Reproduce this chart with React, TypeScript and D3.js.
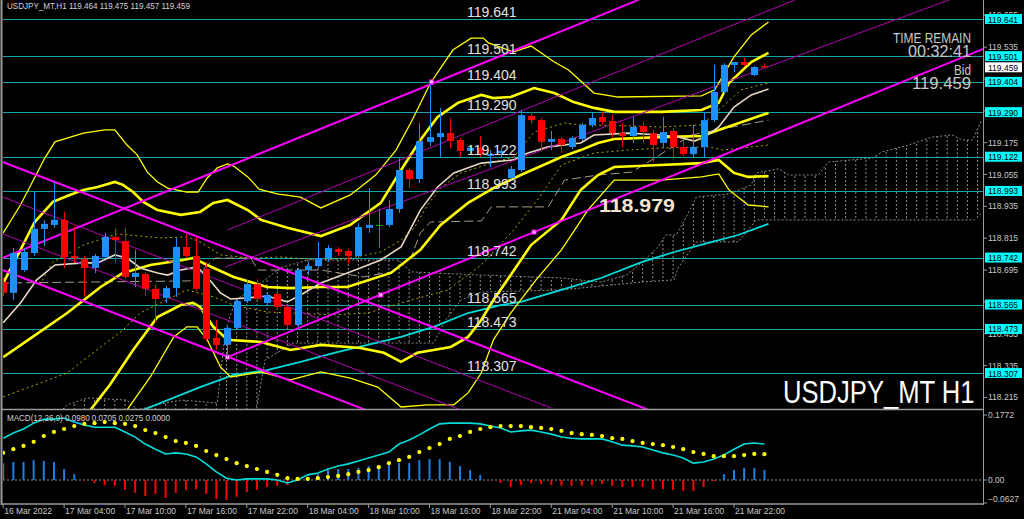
import React from "react";
import * as d3 from "d3";

const W = 1024;
const H = 519;
const RIGHT = 983;
const FONT = "'Liberation Sans', Arial, sans-serif";

// hourly candles, 16 Mar 22:00 .. 22 Mar 01:00
const candleOpen = [118.650, 118.609, 118.695, 118.759, 118.850, 118.865, 118.884, 118.748, 118.737, 118.703,
  118.744, 118.820, 118.804, 118.669, 118.680, 118.624, 118.590, 118.627, 118.782, 118.748,
  118.699, 118.439, 118.413, 118.477, 118.578, 118.642, 118.571, 118.605, 118.556, 118.488,
  118.695, 118.710, 118.740, 118.774, 118.767, 118.748, 118.854, 118.865, 118.865, 118.925,
  119.072, 119.038, 119.178, 119.196, 119.211, 119.185, 119.144, 119.155, 119.125, 119.136,
  119.042, 119.072, 119.276, 119.260, 119.178, 119.189, 119.159, 119.189, 119.242, 119.272,
  119.257, 119.211, 119.200, 119.238, 119.211, 119.174, 119.219, 119.159, 119.132, 119.159,
  119.260, 119.366, 119.468, 119.479, 119.430, 119.464];
const candleHigh = [118.665, 118.778, 118.778, 118.989, 118.884, 119.027, 118.914, 118.857, 118.748, 118.756,
  118.835, 118.850, 118.854, 118.771, 118.688, 118.639, 118.635, 118.816, 118.831, 118.820,
  118.725, 118.507, 118.484, 118.586, 118.657, 118.661, 118.612, 118.620, 118.563, 118.703,
  118.725, 118.801, 118.789, 118.782, 118.774, 118.872, 119.004, 118.925, 118.959, 119.117,
  119.080, 119.249, 119.392, 119.306, 119.268, 119.193, 119.166, 119.200, 119.147, 119.155,
  119.087, 119.298, 119.291, 119.268, 119.219, 119.196, 119.200, 119.249, 119.287, 119.291,
  119.283, 119.249, 119.272, 119.253, 119.223, 119.272, 119.230, 119.185, 119.242, 119.291,
  119.468, 119.475, 119.479, 119.494, 119.464, 119.475];
const candleLow = [118.597, 118.582, 118.688, 118.748, 118.786, 118.854, 118.703, 118.722, 118.594, 118.684,
  118.737, 118.722, 118.661, 118.631, 118.597, 118.499, 118.571, 118.594, 118.740, 118.616,
  118.428, 118.394, 118.367, 118.469, 118.571, 118.575, 118.560, 118.545, 118.477, 118.481,
  118.676, 118.703, 118.725, 118.748, 118.722, 118.740, 118.835, 118.778, 118.857, 118.910,
  119.004, 119.023, 119.162, 119.121, 119.155, 119.121, 119.132, 119.121, 119.083, 119.121,
  119.034, 119.064, 119.249, 119.144, 119.147, 119.136, 119.151, 119.181, 119.234, 119.242,
  119.193, 119.159, 119.174, 119.174, 119.102, 119.155, 119.117, 119.125, 119.117, 119.117,
  119.253, 119.359, 119.441, 119.464, 119.426, 119.457];
const candleClose = [118.609, 118.759, 118.763, 118.850, 118.869, 118.884, 118.744, 118.740, 118.703, 118.748,
  118.820, 118.808, 118.669, 118.684, 118.624, 118.586, 118.627, 118.782, 118.748, 118.624,
  118.435, 118.413, 118.477, 118.578, 118.642, 118.586, 118.601, 118.556, 118.488, 118.695,
  118.710, 118.740, 118.778, 118.763, 118.748, 118.857, 118.865, 118.865, 118.925, 119.072,
  119.038, 119.181, 119.196, 119.211, 119.181, 119.144, 119.155, 119.129, 119.132, 119.144,
  119.076, 119.279, 119.260, 119.178, 119.189, 119.166, 119.193, 119.242, 119.268, 119.253,
  119.211, 119.200, 119.234, 119.215, 119.166, 119.215, 119.159, 119.132, 119.159, 119.260,
  119.366, 119.468, 119.479, 119.468, 119.460, 119.459];

const levelPrices = [119.641, 119.501, 119.404, 119.290, 119.122, 118.993, 118.742, 118.565, 118.473, 118.307];
const priceTicks = [119.655, 119.535, 119.415, 119.295, 119.175, 119.055, 118.935, 118.815, 118.695, 118.575, 118.455, 118.335, 118.215];
const bidPrice = 119.459;
const timeLabels: [number, string][] = [
  [0, "16 Mar 2022"], [6, "17 Mar 04:00"], [12, "17 Mar 10:00"], [18, "17 Mar 16:00"], [24, "17 Mar 22:00"],
  [30, "18 Mar 04:00"], [36, "18 Mar 10:00"], [42, "18 Mar 16:00"], [48, "18 Mar 22:00"], [54, "21 Mar 04:00"],
  [60, "21 Mar 10:00"], [66, "21 Mar 16:00"], [72, "21 Mar 22:00"],
];

// indicator lines as [bar, price]
const bbOuterUpper = [[0, 118.835], [1.7, 118.94], [4.1, 119.117], [5.1, 119.178], [7.9, 119.211], [10, 119.223], [11, 119.223], [12.2, 119.166], [13.2, 119.129], [14.2, 119.064], [15.2, 119.027], [16.2, 119.004], [18.1, 118.989], [19.2, 118.989], [20.1, 119.042], [21.1, 119.08], [22.1, 119.095], [22.7, 119.087], [24.1, 119.046], [25.2, 119.0], [27, 118.982], [29.3, 118.97], [31.3, 118.929], [34.2, 118.978], [36.7, 119.053], [38.7, 119.147], [40.2, 119.253], [42.1, 119.4], [44.3, 119.524], [46.1, 119.569], [47.3, 119.569], [47.8, 119.551], [50.3, 119.517], [52, 119.539], [54.3, 119.479], [55.7, 119.449], [58.2, 119.362], [60.6, 119.347], [68.8, 119.351], [70.1, 119.374], [72, 119.498], [73.7, 119.581], [75.4, 119.63]];
const bbInnerUpper = [[0, 118.646], [1.7, 118.771], [3.1, 118.876], [4.9, 118.952], [6.3, 118.974], [7.9, 118.997], [9.3, 119.008], [11, 119.027], [11.8, 119.016], [12.8, 118.989], [13.8, 118.952], [15.2, 118.921], [17.5, 118.903], [19.4, 118.914], [20.7, 118.948], [22.1, 118.959], [24.1, 118.921], [25.4, 118.884], [28, 118.854], [31.3, 118.823], [34.2, 118.865], [37.2, 118.948], [39.2, 119.072], [41.1, 119.185], [42.8, 119.272], [44.8, 119.325], [47.1, 119.355], [48.3, 119.343], [50, 119.347], [52.3, 119.381], [54.3, 119.362], [56.2, 119.328], [58.2, 119.306], [60.2, 119.291], [64.8, 119.291], [68.8, 119.298], [70.5, 119.325], [71.5, 119.4], [73.7, 119.479], [75.4, 119.513]];
const bbInnerMid = [[0, 118.367], [2.9, 118.443], [6.3, 118.533], [9.6, 118.631], [11.8, 118.684], [14.5, 118.714], [17.7, 118.733], [18.7, 118.74], [20.1, 118.714], [22.7, 118.669], [26, 118.631], [28.3, 118.627], [31.3, 118.631], [33.9, 118.631], [38.2, 118.684], [41.1, 118.771], [43.1, 118.865], [45.8, 118.948], [48.3, 119.004], [51, 119.053], [55, 119.121], [56.9, 119.147], [58.6, 119.174], [60.2, 119.189], [64.8, 119.196], [68.8, 119.2], [70.5, 119.223], [75.4, 119.287]];
const bbInnerLower = [[8.6, 118.168], [10.5, 118.262], [12.8, 118.394], [15.2, 118.518], [17.5, 118.563], [18.7, 118.571], [19.4, 118.556], [20.7, 118.481], [22.1, 118.432], [25.4, 118.424], [28.3, 118.394], [31.3, 118.413], [35.2, 118.401], [37.5, 118.383], [39.2, 118.349], [40.8, 118.383], [42.4, 118.394], [44.1, 118.405], [45.8, 118.443], [47.1, 118.507], [48.3, 118.582], [50, 118.676], [52, 118.789], [55, 118.884], [56.9, 118.997], [58.6, 119.053], [60.2, 119.083], [64.8, 119.091], [68.8, 119.098], [70.5, 119.11], [72, 119.061], [73.4, 119.046], [75.4, 119.049]];
const bbOuterLower = [[12.2, 118.168], [14.5, 118.292], [16.8, 118.443], [18.1, 118.481], [19.1, 118.481], [20.1, 118.432], [21.4, 118.33], [22.4, 118.292], [25.4, 118.311], [28.3, 118.281], [31.3, 118.311], [34.2, 118.288], [36.9, 118.254], [39.2, 118.179], [41.8, 118.187], [44.4, 118.187], [45.8, 118.232], [47.1, 118.307], [48.3, 118.432], [50, 118.533], [52.5, 118.658], [55, 118.771], [57.6, 118.921], [60.2, 119.034], [64.8, 119.034], [68.8, 119.046], [70.5, 119.057], [71.5, 118.997], [73.4, 118.94], [75.4, 118.933]];
const maFast = [[0, 118.496], [1.7, 118.571], [3.3, 118.658], [5.1, 118.714], [7.9, 118.722], [9.3, 118.722], [11, 118.752], [12.2, 118.74], [13.5, 118.703], [15.2, 118.684], [16.2, 118.676], [17.5, 118.695], [19.1, 118.707], [20.1, 118.669], [21.4, 118.609], [22.4, 118.586], [24.1, 118.59], [26, 118.597], [28, 118.575], [29.3, 118.601], [31.3, 118.646], [33.9, 118.684], [37.2, 118.733], [39.2, 118.782], [41.1, 118.921], [42.8, 119.008], [44.4, 119.061], [47.1, 119.098], [50.3, 119.11], [51.7, 119.136], [53.7, 119.159], [56.9, 119.174], [58.2, 119.204], [61.6, 119.211], [64.8, 119.204], [66.5, 119.196], [68.1, 119.181], [69.1, 119.196], [70.5, 119.234], [72, 119.309], [73.7, 119.355], [75.4, 119.377]];
const kijun = [[-0.3, 118.646], [18.4, 118.654], [20.9, 118.74], [24.4, 118.74], [25.1, 118.695], [31.3, 118.695], [35.5, 118.669], [38.2, 118.688], [40.2, 118.744], [41.1, 118.835], [42.1, 118.876], [47.1, 118.88], [48.1, 118.933], [53.7, 118.933], [55.3, 119.034], [58.6, 119.053], [61.9, 119.064], [63.9, 119.11], [67.8, 119.204], [75.4, 119.26]];
const dotUpper = [[3.6, 118.639], [4.9, 118.725], [7.9, 118.789], [11.2, 118.831], [15.5, 118.816], [18.1, 118.82], [19.4, 118.801], [21.4, 118.752], [24.4, 118.74], [27.3, 118.744], [31.3, 118.733], [34.2, 118.74], [37.2, 118.763], [39.2, 118.808], [40.5, 118.854], [41.8, 118.94], [43.1, 119.004], [45.1, 119.061], [48.1, 119.098], [50.3, 119.121], [52.3, 119.215], [55.3, 119.249], [56.9, 119.242], [61.6, 119.238], [64.8, 119.234], [68.8, 119.242], [70.5, 119.298], [72.7, 119.374], [75.4, 119.4]];
const dotLower = [[0, 118.217], [6.3, 118.307], [9.6, 118.405], [11.8, 118.469], [13.5, 118.533], [15.5, 118.571], [18.1, 118.62], [20.7, 118.594], [22.7, 118.563], [26, 118.537], [32.6, 118.526], [35.9, 118.533], [39.2, 118.571], [43.8, 118.62], [47.1, 118.714], [50.3, 118.846], [53, 118.978], [55, 119.091], [58.2, 119.136], [61.6, 119.147], [64.8, 119.155], [69.5, 119.159], [70.9, 119.147], [75.4, 119.166]];
const maSlow = [[13.8, 118.168], [19.4, 118.254], [22.7, 118.3], [26, 118.318], [29.3, 118.349], [32.6, 118.383], [35.9, 118.413], [39.2, 118.443], [42.4, 118.481], [45.8, 118.533], [49, 118.563], [51, 118.575], [55, 118.62], [58.9, 118.665], [62.9, 118.725], [66.1, 118.763], [69.5, 118.797], [72.4, 118.827], [75.4, 118.869]];
const cloudTop = [[5.6, 118.16], [6.3, 118.187], [8.3, 118.213], [12.2, 118.205], [13.2, 118.168], [15.5, 118.19], [17.5, 118.205], [21.1, 118.194], [21.9, 118.469], [22.9, 118.582], [25.4, 118.646], [27.3, 118.703], [30, 118.733], [38.9, 118.733], [40.2, 118.688], [47.1, 118.676], [55, 118.665], [58.9, 118.65], [61.4, 118.676], [62.9, 118.722], [64.5, 118.782], [65.3, 118.827], [66.3, 118.827], [67.3, 118.895], [68.3, 118.97], [71.5, 118.982], [73.7, 119.016], [74.2, 119.061], [76.4, 119.076], [77.4, 119.053], [80.3, 119.053], [81.3, 119.102], [85.6, 119.117], [86.6, 119.14], [89.2, 119.166], [91.5, 119.196], [93.5, 119.204], [94.5, 119.185], [95.5, 119.185], [96.4, 119.26]];
const cloudBottom = [[5.6, 118.16], [24.9, 118.16], [25.8, 118.356], [28.6, 118.42], [42.4, 118.42], [43.6, 118.507], [45.1, 118.582], [47.1, 118.612], [55, 118.62], [62.9, 118.65], [66.1, 118.658], [66.5, 118.703], [68.3, 118.801], [72.4, 118.801], [73.4, 118.846], [74.2, 118.884], [95.7, 118.884], [96.4, 118.91]];

// trend lines [from, to] and anchor points
const trendThick = [
  [[-0.3, 118.737], [62.6, 119.713]],
  [[22.1, 118.367], [96.8, 119.532]],
  [[-0.3, 119.106], [63.6, 118.168]],
  [[-0.3, 118.699], [35.7, 118.168]],
];
const trendThin = [
  [[-0.3, 118.974], [54.0, 118.175]],
  [[-0.3, 118.835], [45.1, 118.168]],
  [[21.9, 118.707], [93.2, 119.713]],
  [[22.1, 118.846], [78.0, 119.713]],
];
const trendAnchors = [[42.2, 119.404], [22.1, 118.367], [37.2, 118.601], [52.3, 118.838]];

// MACD(12,26,9)
const macdMain = [0.114, 0.128, 0.139, 0.155, 0.166, 0.166, 0.169, 0.158, 0.150, 0.144,
  0.144, 0.144, 0.131, 0.117, 0.098, 0.084, 0.071, 0.074, 0.071, 0.063,
  0.044, 0.022, 0.005, 0.000, 0.003, 0.003, 0.003, 0.000, -0.008, 0.000,
  0.014, 0.019, 0.030, 0.038, 0.044, 0.052, 0.060, 0.068, 0.076, 0.098,
  0.109, 0.123, 0.139, 0.153, 0.155, 0.155, 0.155, 0.153, 0.147, 0.142,
  0.131, 0.134, 0.136, 0.131, 0.125, 0.117, 0.114, 0.112, 0.112, 0.112,
  0.104, 0.095, 0.093, 0.090, 0.082, 0.074, 0.068, 0.060, 0.046, 0.049,
  0.057, 0.068, 0.084, 0.098, 0.101, 0.098];
const macdSignal = [0.074, 0.084, 0.093, 0.104, 0.120, 0.131, 0.139, 0.147, 0.153, 0.155,
  0.158, 0.155, 0.153, 0.147, 0.136, 0.128, 0.117, 0.106, 0.101, 0.093,
  0.079, 0.068, 0.057, 0.046, 0.038, 0.030, 0.022, 0.014, 0.005, 0.003,
  0.003, 0.005, 0.008, 0.011, 0.016, 0.022, 0.027, 0.035, 0.046, 0.054,
  0.063, 0.076, 0.087, 0.098, 0.112, 0.120, 0.131, 0.139, 0.144, 0.147,
  0.147, 0.147, 0.144, 0.142, 0.139, 0.134, 0.128, 0.125, 0.123, 0.120,
  0.114, 0.112, 0.106, 0.101, 0.098, 0.095, 0.090, 0.084, 0.076, 0.071,
  0.065, 0.065, 0.065, 0.068, 0.071, 0.0705];
const macdHist = [0.046, 0.049, 0.049, 0.054, 0.052, 0.049, 0.030, 0.016, -0.001, -0.008,
  -0.014, -0.016, -0.027, -0.035, -0.044, -0.038, -0.049, -0.035, -0.027, -0.025,
  -0.038, -0.052, -0.054, -0.046, -0.033, -0.027, -0.019, -0.016, -0.014, 0.003,
  0.008, 0.016, 0.027, 0.030, 0.030, 0.033, 0.038, 0.041, 0.044, 0.046,
  0.046, 0.054, 0.057, 0.057, 0.049, 0.038, 0.027, 0.014, -0.001, -0.008,
  -0.019, -0.014, -0.008, -0.011, -0.014, -0.016, -0.016, -0.016, -0.014, -0.011,
  -0.016, -0.019, -0.019, -0.019, -0.025, -0.025, -0.027, -0.030, -0.030, -0.019,
  -0.003, 0.016, 0.027, 0.033, 0.033, 0.0275];
const macdTicks = [0.1772, 0, -0.0627];

export default function App() {
  const x = d3.scaleLinear().domain([0, 75]).range([3.2, 3.2 + 75 * 10.15]);
  const y = d3.scaleLinear().domain([118.307, 119.641]).range([373, 19]);
  const ym = d3.scaleLinear().domain([-0.0627, 0.1772]).range([503, 415]);
  const line = d3.line<number[]>().x((d) => x(d[0])).y((d) => y(d[1]));
  const macdLine = d3.line<number>().x((d, i) => x(i)).y((d) => ym(d));
  const cloudShape = line([...cloudTop, ...cloudBottom.slice().reverse()]) + "Z";
  const hatchBars = d3.range(5, 97);
  const fmt = d3.format(".3f");

  // axis labels that sit fully under a level box are not shown (as in the terminal)
  const visibleTicks = priceTicks.filter((p) => levelPrices.every((l) => Math.abs(y(l) - y(p)) > 3.5));

  const yellowThick = { fill: "none", stroke: "#ffff00", strokeWidth: 2.6 };
  const yellowThin = { fill: "none", stroke: "#ffff00", strokeWidth: 1.3 };

  return (
    <svg width={W} height={H} style={{ position: "absolute", left: 0, top: 0, background: "#000" }} fontFamily={FONT}>
      <defs>
        <clipPath id="mainClip"><rect x={3} y={0} width={RIGHT - 3} height={409} /></clipPath>
        <clipPath id="macdClip"><rect x={3} y={411} width={RIGHT - 3} height={93} /></clipPath>
        <clipPath id="cloudClip"><path d={cloudShape} /></clipPath>
      </defs>
      <rect width={W} height={H} fill="#000" />

      <g clipPath="url(#mainClip)">
        {/* ichimoku cloud hatch */}
        <g clipPath="url(#cloudClip)">
          {hatchBars.map((i) => (
            <line key={i} x1={x(i)} x2={x(i)} y1={0} y2={410} stroke="#8c8c8c" strokeWidth={1} strokeDasharray="2,2" />
          ))}
        </g>
        <path d={line(cloudTop)!} fill="none" stroke="#8c8c8c" strokeDasharray="2,2" />
        <path d={line(cloudBottom)!} fill="none" stroke="#8c8c8c" strokeDasharray="2,2" />

        {levelPrices.map((p) => (
          <line key={p} x1={0} x2={RIGHT} y1={Math.round(y(p)) + 0.5} y2={Math.round(y(p)) + 0.5} stroke="#1aa6a6" strokeWidth={1} />
        ))}

        <path d={line(kijun)!} fill="none" stroke="#a89a88" strokeWidth={1} strokeDasharray="9,4" />
        <path d={line(dotUpper)!} fill="none" stroke="#b4a800" strokeWidth={1} strokeDasharray="2,3" />
        <path d={line(dotLower)!} fill="none" stroke="#b4a800" strokeWidth={1} strokeDasharray="2,3" />
        <path d={line(maSlow)!} fill="none" stroke="#00dcdc" strokeWidth={1.8} />
        <path d={line(bbOuterUpper)!} {...yellowThin} />
        <path d={line(bbOuterLower)!} {...yellowThin} />
        <path d={line(bbInnerUpper)!} {...yellowThick} />
        <path d={line(bbInnerMid)!} {...yellowThick} />
        <path d={line(bbInnerLower)!} {...yellowThick} />
        <path d={line(maFast)!} fill="none" stroke="#e6d6c2" strokeWidth={1.6} />

        {trendThin.map((t, k) => (
          <path key={"tn" + k} d={line(t)!} fill="none" stroke="#b400b4" strokeWidth={1} />
        ))}
        {trendThick.map((t, k) => (
          <path key={"tk" + k} d={line(t)!} fill="none" stroke="#ff00ff" strokeWidth={2} />
        ))}
        {trendAnchors.map((a, k) => (
          <rect key={"a" + k} x={x(a[0]) - 2} y={y(a[1]) - 2} width={4} height={4} fill="#ffc0ff" stroke="#ff00ff" strokeWidth={1} />
        ))}

        {/* candles */}
        {candleOpen.map((o, i) => {
          const c = candleClose[i];
          const col = c > o ? "#1e8fff" : c < o ? "#ff0000" : "#00c000";
          const cx = Math.round(x(i));
          const top = y(Math.max(o, c));
          const bh = Math.max(1, Math.abs(y(o) - y(c)));
          return (
            <g key={i}>
              <line x1={cx + 0.5} x2={cx + 0.5} y1={y(candleHigh[i])} y2={y(candleLow[i])} stroke={col} strokeWidth={1} />
              <rect x={cx - 3} y={top} width={7} height={bh} fill={col} />
            </g>
          );
        })}

        {levelPrices.map((p) => (
          <text key={"t" + p} x={467} y={y(p) - 2} fontSize={14} fill="#e2e2e2">{fmt(p)}</text>
        ))}
        <text x={599} y={212} fontSize={18} fontWeight="bold" fill="#f4e4d0" textLength={76} lengthAdjust="spacingAndGlyphs">118.979</text>
        <text x={893} y={43} fontSize={15} fill="#c8c8c8" textLength={78} lengthAdjust="spacingAndGlyphs">TIME REMAIN</text>
        <text x={908} y={57} fontSize={17} fill="#c8c8c8" textLength={63} lengthAdjust="spacingAndGlyphs">00:32:41</text>
        <text x={954} y={75} fontSize={15} fill="#c8c8c8" textLength={17} lengthAdjust="spacingAndGlyphs">Bid</text>
        <text x={912} y={89} fontSize={17} fill="#c8c8c8" textLength={59} lengthAdjust="spacingAndGlyphs">119.459</text>
        <text transform="translate(783,403) scale(0.8,1)" fontSize={32} fill="#ffffff">USDJPY_MT H1</text>
      </g>
      <text x={7} y={8.5} fontSize={8.5} fill="#d4d4d4" textLength={183} lengthAdjust="spacingAndGlyphs">USDJPY_MT,H1  119.464 119.475 119.457 119.459</text>

      {/* MACD panel */}
      <g clipPath="url(#macdClip)">
        <line x1={3} x2={RIGHT} y1={ym(0)} y2={ym(0)} stroke="#8c8c8c" strokeDasharray="2,2" />
        {macdHist.map((v, i) => (
          <line key={i} x1={x(i)} x2={x(i)} y1={ym(0)} y2={ym(v)} stroke={v >= 0 ? "#1e7fe0" : "#ff0000"} strokeWidth={2} />
        ))}
        <path d={macdLine(macdMain)!} fill="none" stroke="#00dcdc" strokeWidth={1.6} />
        {macdSignal.map((v, i) => (
          <circle key={i} cx={x(i)} cy={ym(v)} r={2.1} fill="#ffff00" />
        ))}
      </g>
      <text x={7} y={420.5} fontSize={8.5} fill="#d4d4d4" textLength={163} lengthAdjust="spacingAndGlyphs">MACD(12,26,9) 0.0980 0.0705 0.0275 0.0000</text>

      {/* frames */}
      <line x1={1.5} x2={1.5} y1={0} y2={505} stroke="#9a9a9a" strokeWidth={2} />
      <line x1={2} x2={RIGHT} y1={409.5} y2={409.5} stroke="#9a9a9a" strokeWidth={1.5} />
      <line x1={2} x2={RIGHT} y1={504} y2={504} stroke="#9a9a9a" strokeWidth={1.5} />
      <line x1={RIGHT + 0.5} x2={RIGHT + 0.5} y1={0} y2={505} stroke="#9a9a9a" strokeWidth={1} />

      {/* price axis */}
      {priceTicks.map((p) => (
        <line key={"k" + p} x1={RIGHT} x2={RIGHT + 4} y1={y(p)} y2={y(p)} stroke="#9a9a9a" />
      ))}
      {visibleTicks.map((p) => (
        <text key={p} x={988} y={y(p) + 3} fontSize={8.5} fill="#c8c8c8">{fmt(p)}</text>
      ))}
      {levelPrices.map((p) => (
        <g key={"b" + p}>
          <rect x={985} y={y(p) - 5} width={37} height={10} fill="#00ffff" />
          <text x={988} y={y(p) + 3.5} fontSize={8.5} fill="#000">{fmt(p)}</text>
        </g>
      ))}
      <rect x={985} y={y(bidPrice) - 5} width={37} height={10} fill="#ffffff" />
      <text x={988} y={y(bidPrice) + 3.5} fontSize={8.5} fill="#000">{fmt(bidPrice)}</text>

      {macdTicks.map((v, k) => (
        <g key={"m" + k}>
          <line x1={RIGHT} x2={RIGHT + 4} y1={ym(v)} y2={ym(v)} stroke="#9a9a9a" />
          <text x={988} y={ym(v) + (v < 0 ? -1 : 3)} fontSize={8.5} fill="#c8c8c8">{v === 0 ? "0.00" : d3.format(".4f")(v)}</text>
        </g>
      ))}

      {/* time axis */}
      {timeLabels.map(([b, s]) => (
        <g key={s}>
          <line x1={x(b)} x2={x(b)} y1={504} y2={508} stroke="#9a9a9a" />
          <text x={x(b) + 1} y={514} fontSize={8.5} fill="#c8c8c8">{s}</text>
        </g>
      ))}
    </svg>
  );
}
